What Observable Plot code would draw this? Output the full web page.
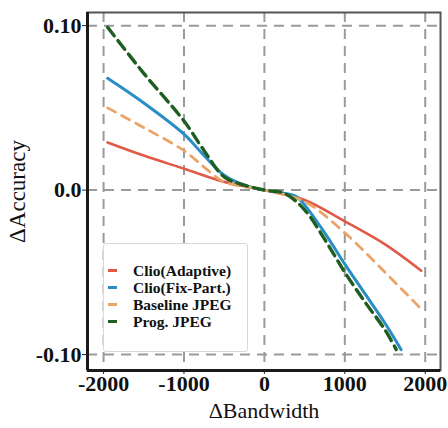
<!DOCTYPE html>
<html lang="en">
<head>
<meta charset="utf-8">
<script src="https://cdn.jsdelivr.net/npm/d3@7"></script>
<script src="https://cdn.jsdelivr.net/npm/@observablehq/plot@0.6"></script>
<style>
  html, body { margin: 0; padding: 0; background: #fff; }
  #wrap { position: relative; width: 448px; height: 428px; font-family: "Liberation Serif", serif; }
  #legend { position: absolute; left: 103px; top: 243px; width: 145px; height: 109px; box-sizing: border-box;
    background: #fff; border: 1.5px solid #d8d8d8; border-radius: 3px; padding: 18px 0 0 2px; }
  .item { display: flex; align-items: center; height: 17px; line-height: 17px; font-weight: bold; font-size: 15.5px; color: #111; white-space: nowrap; }
  .sw { width: 9px; height: 3px; margin-right: 16px; margin-left: 2px; }
</style>
</head>
<body>
<div id="wrap"><div id="chart"></div><div id="legend"></div></div>
<script>
const seriesNames = ["Clio(Adaptive)", "Clio(Fix-Part.)", "Baseline JPEG", "Prog. JPEG"];
const seriesColors = ["#e05a45", "#2a8dc5", "#eba468", "#1e5e22"];
const seriesDash = [null, null, "9,7", "11,6"];
const seriesWidth = [2.6, 3, 2.8, 3.4];

const bwClioAdaptive = [-1950, -1500, -1000, -500, 0, 500, 1000, 1500, 1950];
const accClioAdaptive = [0.029, 0.021, 0.013, 0.005, 0, -0.006, -0.019, -0.033, -0.049];

const bwClioFix = [-1950, -1500, -1000, -750, -500, -250, 0, 250, 400, 500, 750, 1000, 1250, 1500, 1700];
const accClioFix = [0.068, 0.053, 0.034, 0.021, 0.009, 0.003, 0, -0.002, -0.004, -0.009, -0.026, -0.045, -0.063, -0.081, -0.097];

const bwBaseline = [-1950, -1500, -1000, -750, -500, 0, 500, 1000, 1500, 1925];
const accBaseline = [0.050, 0.038, 0.024, 0.014, 0.005, 0, -0.007, -0.026, -0.050, -0.071];

const bwProg = [-1950, -1500, -1000, -750, -500, -250, 0, 250, 500, 750, 1000, 1250, 1500, 1640];
const accProg = [0.099, 0.071, 0.042, 0.024, 0.008, 0.003, 0, -0.002, -0.012, -0.030, -0.050, -0.068, -0.085, -0.097];

const xTicks = [-2000, -1000, 0, 1000, 2000];
const xTickLabels = ["-2000", "-1000", "0", "1000", "2000"];
const yTicks = [-0.1, 0, 0.1];
const yTickLabels = ["-0.10", "0.0", "0.10"];
const xLabel = "ΔBandwidth";
const yLabel = "ΔAccuracy";
const xDomain = [-2200, 2190];
const yDomain = [-0.1097, 0.108];

const bwArrays = [bwClioAdaptive, bwClioFix, bwBaseline, bwProg];
const accArrays = [accClioAdaptive, accClioFix, accBaseline, accProg];

const lineMarks = seriesNames.map((name, i) => {
  const data = bwArrays[i].map((b, j) => ({bw: b, acc: accArrays[i][j]}));
  return Plot.line(data, {
    x: "bw", y: "acc", curve: "catmull-rom",
    stroke: seriesColors[i], strokeWidth: seriesWidth[i],
    strokeDasharray: seriesDash[i] || undefined
  });
});

const ff = "Liberation Serif";
const chart = Plot.plot({
  width: 448, height: 428,
  marginLeft: 87, marginRight: 8, marginTop: 12, marginBottom: 58,
  style: {fontFamily: ff, background: "#fff", color: "#111"},
  x: {domain: xDomain},
  y: {domain: yDomain},
  marks: [
    Plot.gridX(xTicks, {stroke: "#9a9a9a", strokeOpacity: 1, strokeWidth: 2, strokeDasharray: "10,7"}),
    Plot.gridY(yTicks, {stroke: "#9a9a9a", strokeOpacity: 1, strokeWidth: 2, strokeDasharray: "10,7"}),
    ...lineMarks,
    Plot.frame({stroke: "#555", strokeWidth: 2}),
    Plot.ruleX([xDomain[0]], {stroke: "#1a1a1a", strokeWidth: 3}),
    Plot.ruleY([yDomain[0]], {stroke: "#1a1a1a", strokeWidth: 3}),
    Plot.axisX(xTicks, {tickFormat: (d, i) => xTickLabels[i], tickSize: 4, tickPadding: 1, fontSize: 22, fontWeight: "bold", fontFamily: ff, label: null, stroke: "#222"}),
    Plot.axisY(yTicks, {tickFormat: (d, i) => yTickLabels[i], tickSize: 5, tickPadding: 1, fontSize: 22, fontWeight: "bold", fontFamily: ff, label: null, stroke: "#222"}),
    Plot.text([xLabel], {frameAnchor: "bottom", dy: 47, fontSize: 22, fontFamily: ff, text: d => d, fill: "#111"}),
    Plot.text([yLabel], {frameAnchor: "left", dx: -70, rotate: -90, textAnchor: "middle", fontSize: 23, fontFamily: ff, text: d => d, fill: "#111"})
  ]
});
document.getElementById("chart").appendChild(chart);

const legend = document.getElementById("legend");
seriesNames.forEach((name, i) => {
  const item = document.createElement("div");
  item.className = "item";
  const sw = document.createElement("span");
  sw.className = "sw";
  sw.style.background = seriesColors[i];
  item.appendChild(sw);
  const t = document.createElement("span");
  t.textContent = name;
  item.appendChild(t);
  legend.appendChild(item);
});
</script>
</body>
</html>
